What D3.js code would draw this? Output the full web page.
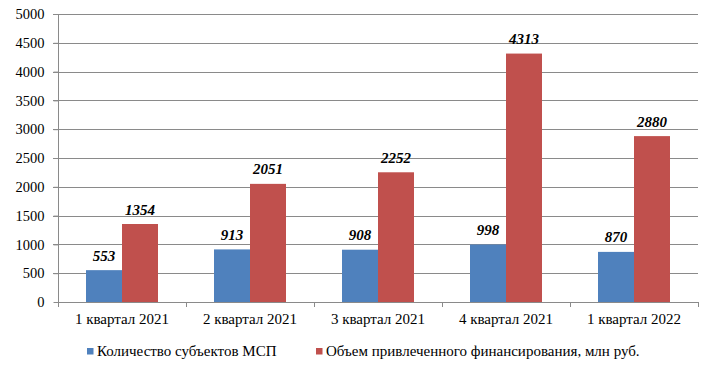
<!DOCTYPE html>
<html><head><meta charset="utf-8">
<script src="https://cdn.jsdelivr.net/npm/d3@7"></script>
<style>body{margin:0;background:#fff}svg{display:block}svg text{font-family:"Liberation Serif","Times New Roman",serif}</style>
</head><body>
<script>
const categories = ["1 квартал 2021","2 квартал 2021","3 квартал 2021","4 квартал 2021","1 квартал 2022"];
const seriesNames = ["Количество субъектов МСП","Объем привлеченного финансирования, млн руб."];
const countValues = [553, 913, 908, 998, 870];
const financeValues = [1354, 2051, 2252, 4313, 2880];
const yTicks = [0,500,1000,1500,2000,2500,3000,3500,4000,4500,5000];
const colors = ["#4F81BD","#C0504D"];

(function(){
const W = 714, H = 372;
const pLeft = 58, pRight = 698, pTop = 14, pBottom = 302;
const svg = d3.select("body").append("svg").attr("width", W).attr("height", H);

const x = d3.scaleBand().domain(categories).range([pLeft, pRight]).paddingInner(0).paddingOuter(0);
const y = d3.scaleLinear().domain([0, 5000]).range([pBottom, pTop]);
const groupPad = 0.4375;
const barW = x.bandwidth() * (1 - groupPad) / 2;
const off = x.bandwidth() * groupPad / 2;

// gridlines
svg.append("g").selectAll("line").data(yTicks.filter(d => d > 0)).join("line")
  .attr("x1", pLeft - 5).attr("x2", pRight).attr("y1", d => Math.round(y(d)) + 0.5).attr("y2", d => Math.round(y(d)) + 0.5)
  .attr("stroke", "#8a8a8a").attr("stroke-width", 1);

// y axis
const yAxis = d3.axisLeft(y).tickValues(yTicks).tickFormat(d3.format("d")).tickSize(5).tickPadding(9);
const gy = svg.append("g").attr("transform", `translate(${pLeft + 0.5},0)`).call(yAxis);
gy.attr("font-family", null);
gy.select(".domain").attr("stroke", "#8a8a8a").attr("d", `M0,${pTop}V${pBottom}`);
gy.selectAll(".tick line").attr("stroke", "#8a8a8a");
gy.selectAll("text").attr("font-size", 14.5).attr("fill", "#000");

// bars
const data = categories.map((c, i) => ({c, v: [countValues[i], financeValues[i]]}));
const groups = svg.append("g").selectAll("g").data(data).join("g");
groups.selectAll("rect").data(d => d.v.map((v, k) => ({c: d.c, v, k}))).join("rect")
  .attr("x", d => x(d.c) + off + d.k * barW)
  .attr("width", barW)
  .attr("y", d => y(d.v))
  .attr("height", d => pBottom - y(d.v))
  .attr("fill", d => colors[d.k]);
groups.selectAll("text").data(d => d.v.map((v, k) => ({c: d.c, v, k}))).join("text")
  .attr("x", d => x(d.c) + off + d.k * barW + barW / 2)
  .attr("y", d => y(d.v) - 9.5)
  .attr("text-anchor", "middle")
  .attr("font-size", 15).attr("font-weight", "bold").attr("font-style", "italic")
  .text(d => d.v);

// x axis
const xAxis = d3.axisBottom(x).tickSize(0);
const gx = svg.append("g").attr("transform", `translate(0,${pBottom + 0.5})`).call(xAxis);
gx.attr("font-family", null);
gx.select(".domain").attr("stroke", "#8a8a8a").attr("d", `M${pLeft},0H${pRight}`);
gx.selectAll("text").attr("font-size", 15).attr("fill", "#000").attr("y", 21.5).attr("dy", null);
// boundary tick marks
svg.append("g").selectAll("line").data(categories.map(c => x(c)).concat([pRight])).join("line")
  .attr("x1", d => Math.round(d) + 0.5).attr("x2", d => Math.round(d) + 0.5).attr("y1", pBottom).attr("y2", pBottom + 5)
  .attr("stroke", "#8a8a8a");

// legend
const legendX = [87, 316];
const lg = svg.append("g").selectAll("g").data(seriesNames).join("g")
  .attr("transform", (d, i) => `translate(${legendX[i]},351)`);
lg.append("rect").attr("x", 0).attr("y", -3).attr("width", 6.5).attr("height", 6.5).attr("fill", (d, i) => colors[i]);
lg.append("text").attr("x", 10).attr("y", 5).attr("font-size", 15).text(d => d);
})();
</script>
</body></html>
